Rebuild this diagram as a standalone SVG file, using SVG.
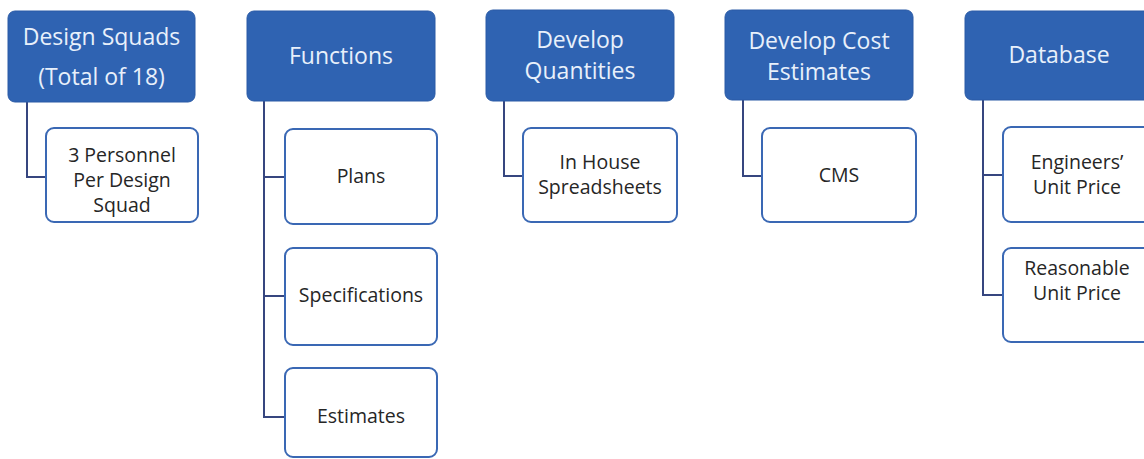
<svg xmlns="http://www.w3.org/2000/svg" width="1144" height="459" viewBox="0 0 1144 459">
  <style>
    .head { fill: #2f63b2; stroke: #2b5ba6; stroke-width: 1; }
    .item { fill: #ffffff; stroke: #3a68b4; stroke-width: 2; }
    .htxt { font-family: "Open Sans", "Noto Sans", sans-serif; font-size: 23px; fill: #e8f0fb; text-anchor: middle; }
    .itxt { font-family: "Open Sans", "Noto Sans", sans-serif; font-size: 19.5px; fill: #262626; text-anchor: middle; }
    .link { fill: none; stroke: #36467f; stroke-width: 2; }
  </style>
  <rect width="1144" height="459" fill="#ffffff"/>

  <!-- connectors -->
  <g id="connectors">
    <path class="link" d="M27 102 V177 H46"/>
    <path class="link" d="M264 101 V417 H285 M264 177 H285 M264 296 H285"/>
    <path class="link" d="M504 101 V176 H523"/>
    <path class="link" d="M743 100 V176 H762"/>
    <path class="link" d="M983 100 V295 H1003 M983 175 H1003"/>
  </g>

  <!-- column 1 -->
  <g id="design-squads">
    <rect class="head" x="8" y="11" width="187" height="91" rx="7"/>
    <text class="htxt" x="101.5" y="45">Design Squads</text>
    <text class="htxt" x="101.5" y="85">(Total of 18)</text>
  </g>
  <g id="personnel">
    <rect class="item" x="46" y="128" width="152" height="94" rx="8"/>
    <text class="itxt" x="122" y="161.5">3 Personnel</text>
    <text class="itxt" x="122" y="186.5">Per Design</text>
    <text class="itxt" x="122" y="211.5">Squad</text>
  </g>

  <!-- column 2 -->
  <g id="functions">
    <rect class="head" x="247" y="11" width="188" height="90" rx="7"/>
    <text class="htxt" x="341" y="64">Functions</text>
  </g>
  <g id="plans">
    <rect class="item" x="285" y="129" width="152" height="95" rx="8"/>
    <text class="itxt" x="361" y="183">Plans</text>
  </g>
  <g id="specifications">
    <rect class="item" x="285" y="248" width="152" height="97" rx="8"/>
    <text class="itxt" x="361" y="302">Specifications</text>
  </g>
  <g id="estimates">
    <rect class="item" x="285" y="368" width="152" height="89" rx="8"/>
    <text class="itxt" x="361" y="423">Estimates</text>
  </g>

  <!-- column 3 -->
  <g id="develop-quantities">
    <rect class="head" x="486" y="10" width="188" height="91" rx="7"/>
    <text class="htxt" x="580" y="48">Develop</text>
    <text class="htxt" x="580" y="79">Quantities</text>
  </g>
  <g id="spreadsheets">
    <rect class="item" x="523" y="128" width="154" height="94" rx="8"/>
    <text class="itxt" x="600" y="169">In House</text>
    <text class="itxt" x="600" y="194">Spreadsheets</text>
  </g>

  <!-- column 4 -->
  <g id="develop-cost-estimates">
    <rect class="head" x="725" y="10" width="188" height="90" rx="7"/>
    <text class="htxt" x="819" y="49">Develop Cost</text>
    <text class="htxt" x="819" y="80">Estimates</text>
  </g>
  <g id="cms">
    <rect class="item" x="762" y="128" width="154" height="94" rx="8"/>
    <text class="itxt" x="839" y="182">CMS</text>
  </g>

  <!-- column 5 -->
  <g id="database">
    <rect class="head" x="965" y="11" width="190" height="89" rx="7"/>
    <text class="htxt" x="1059" y="63">Database</text>
  </g>
  <g id="engineers-unit-price">
    <rect class="item" x="1003" y="127" width="152" height="95" rx="8"/>
    <text class="itxt" x="1077" y="169">Engineers’</text>
    <text class="itxt" x="1077" y="194">Unit Price</text>
  </g>
  <g id="reasonable-unit-price">
    <rect class="item" x="1003" y="248" width="152" height="94" rx="8"/>
    <text class="itxt" x="1077" y="275">Reasonable</text>
    <text class="itxt" x="1077" y="300">Unit Price</text>
  </g>
</svg>
